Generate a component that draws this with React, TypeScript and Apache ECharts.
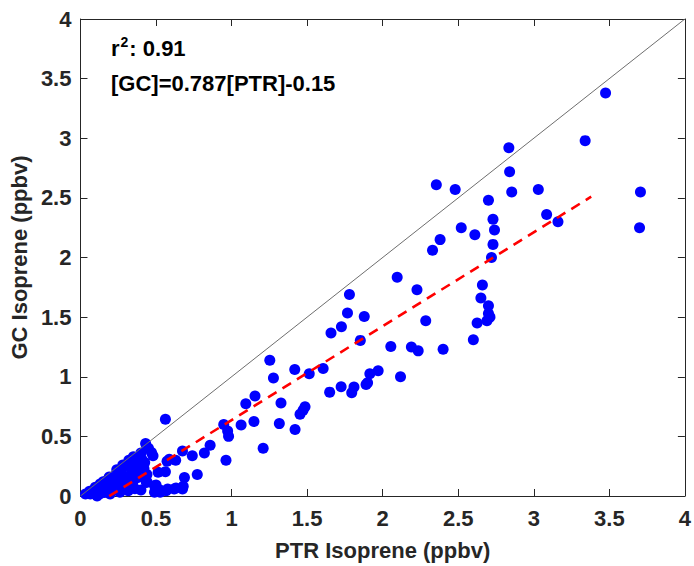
import React, { useEffect, useRef } from "react";
import * as echarts from "echarts";

// PTR (x) vs GC (y) isoprene, ppbv — grouped by range
const highPtr = [3.475, 3.34, 2.835, 2.84, 2.355, 2.48, 2.854, 3.03, 3.706, 2.70, 2.73, 3.085, 3.16, 2.52, 2.74, 2.61, 2.38, 2.33, 2.73, 2.72, 3.70, 2.096, 2.227, 2.66, 2.65, 2.70, 2.70, 2.71, 2.69, 2.285, 2.625, 2.60, 2.19, 2.235, 2.40];
const highGc = [3.38, 2.98, 2.92, 2.72, 2.61, 2.57, 2.55, 2.57, 2.55, 2.48, 2.32, 2.36, 2.30, 2.25, 2.23, 2.19, 2.15, 2.06, 2.11, 2.00, 2.25, 1.835, 1.73, 1.77, 1.66, 1.595, 1.53, 1.50, 1.47, 1.47, 1.45, 1.31, 1.25, 1.217, 1.23];

const midPtr = [1.78, 1.767, 1.878, 1.727, 1.658, 1.852, 2.054, 1.253, 1.418, 1.277, 1.514, 1.606, 1.97, 1.915, 2.118, 1.90, 1.89, 1.649, 1.725, 1.81, 1.795, 1.094, 1.155, 1.327, 1.486, 1.473, 1.453, 0.948, 0.974, 0.98, 1.063, 1.148, 1.316, 1.42, 0.858, 1.209];
const midGc = [1.69, 1.534, 1.506, 1.42, 1.367, 1.305, 1.253, 1.138, 1.06, 0.99, 1.025, 1.07, 1.05, 1.025, 1.00, 0.95, 0.935, 0.871, 0.916, 0.913, 0.866, 0.774, 0.838, 0.78, 0.749, 0.72, 0.685, 0.60, 0.545, 0.50, 0.595, 0.624, 0.607, 0.557, 0.426, 0.40];

const lowPtr = [0.562, 0.431, 0.47, 0.48, 0.675, 0.573, 0.63, 0.74, 0.82, 0.963, 0.773, 0.688, 0.562, 0.514, 0.68, 0.632, 0.577, 0.523, 0.50, 0.675, 0.62, 0.567, 0.527, 0.49, 0.44, 0.44, 0.405, 0.405, 0.588];
const lowGc = [0.643, 0.44, 0.365, 0.337, 0.378, 0.292, 0.30, 0.337, 0.36, 0.30, 0.18, 0.156, 0.203, 0.20, 0.081, 0.067, 0.058, 0.053, 0.092, 0.058, 0.058, 0.044, 0.031, 0.031, 0.18, 0.12, 0.31, 0.25, 0.309];

const nearZeroPtr = [0.388, 0.36, 0.425, 0.294, 0.338, 0.272, 0.218, 0.174, 0.13, 0.098, 0.033, 0.065, 0.11, 0.35, 0.38, 0.436, 0.49, 0.316, 0.261, 0.196, 0.24, 0.28, 0.32, 0.35, 0.40, 0.45, 0.15, 0.19, 0.06, 0.09, 0.14, 0.17, 0.21, 0.25, 0.29, 0.33, 0.37, 0.42, 0.30, 0.36, 0.40, 0.23, 0.13, 0.16, 0.24];
const nearZeroGc = [0.315, 0.287, 0.281, 0.253, 0.225, 0.198, 0.142, 0.128, 0.10, 0.073, 0.017, 0.017, 0.0, 0.128, 0.156, 0.114, 0.086, 0.044, 0.031, 0.017, 0.22, 0.26, 0.30, 0.33, 0.36, 0.40, 0.12, 0.16, 0.04, 0.05, 0.06, 0.08, 0.09, 0.11, 0.14, 0.17, 0.20, 0.23, 0.08, 0.06, 0.05, 0.05, 0.02, 0.03, 0.14];

const fitSlope = 0.787;
const fitIntercept = -0.15;
const fitRange = [0.19, 3.38];
const oneToOne = [0, 4];
const rSquared = "0.91";
const equationText = "[GC]=0.787[PTR]-0.15";

const xTitle = "PTR Isoprene (ppbv)";
const yTitle = "GC Isoprene (ppbv)";

const FONT = "'Liberation Sans', Arial, Helvetica, sans-serif";
const AXIS_COLOR = "#262626";

export default function App() {
  const ref = useRef<HTMLDivElement>(null);

  useEffect(() => {
    if (!ref.current) return;
    const chart = echarts.init(ref.current, undefined, { renderer: "svg" });

    const points: number[][] = [];
    const pushAll = (xs: number[], ys: number[]) => {
      xs.forEach((x, i) => points.push([x, ys[i]]));
    };
    pushAll(highPtr, highGc);
    pushAll(midPtr, midGc);
    pushAll(lowPtr, lowGc);
    pushAll(nearZeroPtr, nearZeroGc);

    const fitLine = fitRange.map((x) => [x, fitSlope * x + fitIntercept]);
    const identityLine = oneToOne.map((v) => [v, v]);

    const baseAxis = {
      type: "value" as const,
      min: 0,
      max: 4,
      interval: 0.5,
      splitLine: { show: false },
      axisLine: { show: true, onZero: false, lineStyle: { color: AXIS_COLOR, width: 1 } },
      axisTick: { show: true, inside: true, length: 7, lineStyle: { color: AXIS_COLOR, width: 1 } },
    };

    chart.setOption({
      animation: false,
      backgroundColor: "#ffffff",
      grid: { left: 80, right: 2, top: 19, bottom: 69, containLabel: false },
      xAxis: [
        {
          ...baseAxis,
          position: "bottom",
          name: xTitle,
          nameLocation: "middle",
          nameGap: 43,
          nameTextStyle: { fontFamily: FONT, fontWeight: "bold", fontSize: 22, color: AXIS_COLOR },
          axisLabel: { fontFamily: FONT, fontWeight: "bold", fontSize: 22, color: AXIS_COLOR, margin: 11 },
        },
        {
          ...baseAxis,
          position: "top",
          axisLabel: { show: false },
        },
      ],
      yAxis: [
        {
          ...baseAxis,
          position: "left",
          name: yTitle,
          nameLocation: "middle",
          nameGap: 45,
          nameTextStyle: { fontFamily: FONT, fontWeight: "bold", fontSize: 22, color: AXIS_COLOR },
          axisLabel: { fontFamily: FONT, fontWeight: "bold", fontSize: 22, color: AXIS_COLOR, margin: 9 },
        },
        {
          ...baseAxis,
          position: "right",
          axisLabel: { show: false },
        },
      ],
      series: [
        {
          type: "scatter",
          data: points,
          symbol: "circle",
          symbolSize: 11,
          itemStyle: { color: "#0000ff", opacity: 1 },
          z: 2,
        },
        {
          type: "line",
          data: identityLine,
          symbol: "none",
          lineStyle: { color: "#6e6e6e", width: 1 },
          z: 3,
        },
        {
          type: "line",
          data: fitLine,
          symbol: "none",
          lineStyle: { color: "#ff0000", width: 2.6, type: [10, 7] },
          z: 4,
        },
      ],
      graphic: [
        {
          type: "text",
          left: 111,
          top: 35,
          style: {
            text: "{b|r}{s|2}{b|: " + rSquared + "}",
            rich: {
              b: { fontFamily: FONT, fontWeight: "bold", fontSize: 22, fill: "#000", verticalAlign: "bottom", lineHeight: 24 },
              s: { fontFamily: FONT, fontWeight: "bold", fontSize: 14, fill: "#000", verticalAlign: "top", lineHeight: 24, padding: [0, 1, 8, 1] },
            },
          },
        },
        {
          type: "text",
          left: 111,
          top: 72,
          style: {
            text: equationText,
            fontFamily: FONT,
            fontWeight: "bold",
            fontSize: 22,
            fill: "#000",
          },
        },
      ],
    });

    return () => chart.dispose();
  }, []);

  return (
    <div
      ref={ref}
      style={{ position: "fixed", left: 0, top: 0, width: 694, height: 566 }}
    />
  );
}
